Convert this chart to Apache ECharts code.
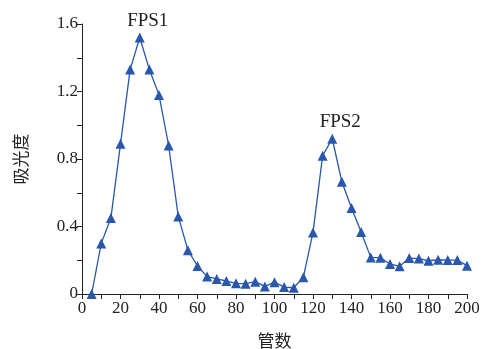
<!DOCTYPE html>
<html>
<head>
<meta charset="utf-8">
<script src="https://cdn.jsdelivr.net/npm/echarts@6/dist/echarts.min.js"></script>
<style>
  html, body { margin: 0; padding: 0; background: #fff; }
  #chart { width: 489px; height: 349px; }
</style>
</head>
<body>
<div id="chart"></div>
<script>
// tube numbers and absorbance
const tubes = [5, 10, 15, 20, 25, 30, 35, 40, 45, 50, 55, 60, 65, 70, 75, 80, 85, 90, 95, 100,
  105, 110, 115, 120, 125, 130, 135, 140, 145, 150, 155, 160, 165, 170, 175, 180, 185, 190, 195, 200];
const absorbance = [0.0, 0.30, 0.45, 0.89, 1.33, 1.52, 1.33, 1.18, 0.88, 0.46, 0.26, 0.166, 0.103, 0.089, 0.077, 0.063, 0.061, 0.073, 0.045, 0.07,
  0.041, 0.037, 0.10, 0.365, 0.82, 0.92, 0.665, 0.51, 0.367, 0.217, 0.215, 0.178, 0.164, 0.213, 0.21, 0.197, 0.203, 0.201, 0.201, 0.168];
const peakLabels = { 30: 'FPS1', 130: 'FPS2' };
const xTicks = [0, 20, 40, 60, 80, 100, 120, 140, 160, 180, 200];
const yTicks = [0, 0.4, 0.8, 1.2, 1.6];

const serif = '"Liberation Serif", "Times New Roman", serif';
const cjk = '"Noto Sans CJK SC", sans-serif';
const axisColor = '#222';
const blue = '#2857ad';

const seriesData = tubes.map((t, i) => {
  const item = { value: [t, absorbance[i]] };
  if (peakLabels[t]) {
    item.label = {
      show: true,
      position: 'top',
      distance: 2,
      offset: [8, 0],
      formatter: peakLabels[t],
      color: '#222',
      fontFamily: serif,
      fontSize: 19
    };
  }
  return item;
});

const chart = echarts.init(document.getElementById('chart'), null, { renderer: 'canvas' });

chart.setOption({
  animation: false,
  backgroundColor: '#fff',
  grid: { left: 82, right: 22, top: 24, bottom: 55, outerBoundsMode: 'none' },
  xAxis: {
    type: 'value',
    min: xTicks[0],
    max: xTicks[xTicks.length - 1],
    interval: 20,
    name: '管数',
    nameLocation: 'middle',
    nameGap: 38,
    nameTextStyle: { fontFamily: cjk, fontSize: 17, color: '#222' },
    axisLine: { lineStyle: { color: axisColor, width: 1 } },
    axisTick: { show: true, length: 5, lineStyle: { color: axisColor } },
    minorTick: { show: true, splitNumber: 2, length: 5, lineStyle: { color: axisColor } },
    axisLabel: { fontFamily: serif, fontSize: 17, color: '#222', margin: 6 },
    splitLine: { show: false }
  },
  yAxis: {
    type: 'value',
    min: yTicks[0],
    max: yTicks[yTicks.length - 1],
    interval: 0.4,
    name: '吸光度',
    nameLocation: 'middle',
    nameGap: 53,
    nameRotate: 90,
    nameTextStyle: { fontFamily: cjk, fontSize: 17, color: '#222' },
    axisLine: { show: true, lineStyle: { color: axisColor, width: 1 } },
    axisTick: { show: true, length: 5, lineStyle: { color: axisColor } },
    minorTick: { show: true, splitNumber: 2, length: 5, lineStyle: { color: axisColor } },
    axisLabel: {
      fontFamily: serif, fontSize: 17, color: '#222', margin: 4,
      formatter: v => (v === 0 ? '0' : v.toFixed(1))
    },
    splitLine: { show: false }
  },
  series: [{
    type: 'line',
    data: seriesData,
    symbol: 'triangle',
    symbolSize: 10,
    lineStyle: { color: blue, width: 1.3 },
    itemStyle: { color: blue },
    clip: false
  }]
});
</script>
</body>
</html>
